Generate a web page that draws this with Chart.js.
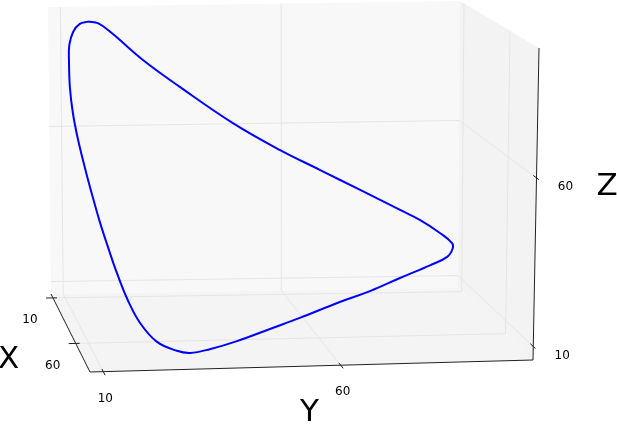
<!DOCTYPE html>
<html>
<head>
<meta charset="utf-8">
<script src="https://cdn.jsdelivr.net/npm/chart.js@4.4.0/dist/chart.umd.min.js"></script>
<style>
html, body { margin: 0; padding: 0; background: #fff; }
#wrap { width: 617px; height: 425px; position: relative; }
</style>
</head>
<body>
<div id="wrap"><canvas id="chart"></canvas></div>
<script>
// orbit samples
const xs = [9.1, 9.1, 9.1, 9.1, 9.1, 9.1, 9.1, 9.1, 9.1, 9.1, 9.1, 9.1, 10.0, 10.8, 12.6, 16.8, 24.6, 33.1, 41.7, 52.8,
            60.5, 70.0, 76.8, 81.1, 82.8, 82.8, 79.4, 74.3, 66.5, 58.8, 52.0, 45.1, 37.4, 28.0, 21.1, 15.1, 10.8, 10.0, 9.1, 9.1];
const ys = [15.9, 18.2, 21.2, 28.2, 36.5, 48.5, 59.2, 68.3, 77.4, 86.5, 91.0, 95.6, 98.2, 98.2, 96.6, 91.9, 83.7, 75.5, 67.4, 56.9,
            49.3, 40.9, 34.2, 29.5, 26.5, 22.3, 19.1, 17.1, 15.6, 14.4, 13.6, 12.8, 12.1, 11.4, 11.0, 11.0, 11.3, 11.5, 12.5, 14.0];
const zs = [94.3, 93.7, 90.5, 81.7, 72.9, 61.0, 52.1, 45.5, 38.9, 32.3, 29.0, 24.7, 21.6, 20.1, 17.9, 16.4, 14.6, 12.9, 12.0, 10.3,
            9.2, 8.3, 7.9, 8.1, 9.3, 12.1, 17.0, 22.5, 28.9, 35.5, 40.6, 46.7, 53.0, 60.8, 67.8, 74.7, 82.4, 87.1, 91.1, 93.6];

// axis limits and ticks
const xLim = [5.7, 91.4];
const yLim = [7.2, 100.5];
const zLim = [6, 98.5];
const xTicks = [10, 60];
const yTicks = [10, 60];
const zTicks = [10, 60];
const axisNames = ['X', 'Y', 'Z'];

// screen corners of the axes box, key = u v w (back/front, left/right, bottom/top)
const box = {
    '000': [51, 294], '001': [48, 7], '010': [458, 288], '011': [460, 1],
    '100': [90, 372], '101': [86, 60], '110': [533, 360], '111': [539, 48]
};

function lerp(a, b, t) {
    return [a[0] + (b[0] - a[0]) * t, a[1] + (b[1] - a[1]) * t];
}

function proj(u, v, w) {
    const back = lerp(lerp(box['000'], box['001'], w), lerp(box['010'], box['011'], w), v);
    const front = lerp(lerp(box['100'], box['101'], w), lerp(box['110'], box['111'], w), v);
    return lerp(back, front, u);
}

const norm = (val, lim) => (val - lim[0]) / (lim[1] - lim[0]);
const toScreen = (x, y, z) => proj(norm(x, xLim), norm(y, yLim), norm(z, zLim));

const orbit = xs.map((x, i) => {
    const p = toScreen(x, ys[i], zs[i]);
    return { x: p[0], y: p[1] };
});
orbit.push(orbit[0]);

// panes, grid, axes, ticks
const frame = {
    id: 'frame',
    beforeDatasetsDraw(chart) {
        const ctx = chart.ctx;
        const sx = chart.scales.x, sy = chart.scales.y;
        const P = p => [sx.getPixelForValue(p[0]), sy.getPixelForValue(p[1])];

        function poly(pts, color) {
            ctx.beginPath();
            pts.map(P).forEach((p, i) => i ? ctx.lineTo(p[0], p[1]) : ctx.moveTo(p[0], p[1]));
            ctx.closePath();
            ctx.fillStyle = color;
            ctx.fill();
        }
        function seg(a, b, color, width) {
            const pa = P(a), pb = P(b);
            ctx.beginPath();
            ctx.moveTo(pa[0], pa[1]);
            ctx.lineTo(pb[0], pb[1]);
            ctx.strokeStyle = color;
            ctx.lineWidth = width;
            ctx.stroke();
        }
        function tick(p, q, before, after) {
            const dx = q[0] - p[0], dy = q[1] - p[1];
            const len = Math.hypot(dx, dy);
            const ux = dx / len, uy = dy / len;
            seg([p[0] - ux * before, p[1] - uy * before], [p[0] + ux * after, p[1] + uy * after], '#222', 1);
        }

        ctx.save();
        poly([proj(0, 0, 0), proj(0, 0, 1), proj(0, 1, 1), proj(0, 1, 0)], '#f8f8f8');
        poly([proj(0, 1, 0), proj(0, 1, 1), proj(1, 1, 1), proj(1, 1, 0)], '#f3f3f3');
        poly([proj(0, 0, 0), proj(0, 1, 0), proj(1, 1, 0), proj(1, 0, 0)], '#f4f4f4');

        const grid = '#e6e6e6';
        xTicks.forEach(t => {
            const u = norm(t, xLim);
            seg(proj(u, 0, 0), proj(u, 1, 0), grid, 1);
            seg(proj(u, 1, 0), proj(u, 1, 1), grid, 1);
        });
        yTicks.forEach(t => {
            const v = norm(t, yLim);
            seg(proj(0, v, 0), proj(0, v, 1), grid, 1);
            seg(proj(0, v, 0), proj(1, v, 0), grid, 1);
        });
        zTicks.forEach(t => {
            const w = norm(t, zLim);
            seg(proj(0, 0, w), proj(0, 1, w), grid, 1);
            seg(proj(0, 1, w), proj(1, 1, w), grid, 1);
        });

        seg(proj(0, 0, 0), proj(1, 0, 0), '#222', 1);
        seg(proj(1, 0, 0), proj(1, 1, 0), '#222', 1);
        seg(proj(1, 1, 0), proj(1, 1, 1), '#222', 1);

        xTicks.forEach(t => {
            const u = norm(t, xLim);
            tick(proj(u, 0, 0), proj(u, 0.05, 0), 7, 4);
        });
        yTicks.forEach(t => {
            const v = norm(t, yLim);
            tick(proj(1, v, 0), proj(0.9, v, 0), 4, 3);
        });
        zTicks.forEach(t => {
            const w = norm(t, zLim);
            tick(proj(1, 1, w), proj(0.9, 1, w), 3, 4);
        });
        ctx.restore();
    },
    afterDatasetsDraw(chart) {
        const ctx = chart.ctx;
        const sx = chart.scales.x, sy = chart.scales.y;
        function text(str, p, dx, dy, size) {
            ctx.font = size + 'px "DejaVu Sans"';
            ctx.fillText(str, sx.getPixelForValue(p[0]) + dx, sy.getPixelForValue(p[1]) + dy);
        }
        ctx.save();
        ctx.fillStyle = '#000';
        ctx.textAlign = 'center';
        ctx.textBaseline = 'middle';
        xTicks.forEach(t => text(String(t), proj(norm(t, xLim), 0, 0), -23, 22, 12));
        yTicks.forEach(t => text(String(t), proj(1, norm(t, yLim), 0), 2, 27, 12));
        zTicks.forEach(t => text(String(t), proj(1, 1, norm(t, zLim)), 29, 9, 12));
        text(axisNames[0], proj(0.5, 0, 0), -62, 27, 31);
        text(axisNames[1], proj(1, 0.5, 0), -2, 47, 31);
        text(axisNames[2], proj(1, 1, 0.5), 71, -17, 31);
        ctx.restore();
    }
};

new Chart(document.getElementById('chart'), {
    type: 'scatter',
    data: {
        datasets: [{
            label: 'orbit',
            data: orbit,
            showLine: true,
            borderColor: '#0000ff',
            borderWidth: 2,
            pointRadius: 0,
            tension: 0.4,
            fill: false
        }]
    },
    options: {
        responsive: true,
        maintainAspectRatio: false,
        animation: false,
        layout: { padding: 0 },
        scales: {
            x: { type: 'linear', min: 0, max: 617, display: false },
            y: { type: 'linear', min: 0, max: 425, reverse: true, display: false }
        },
        plugins: {
            legend: { display: false },
            tooltip: { enabled: false }
        }
    },
    plugins: [frame]
});
</script>
</body>
</html>
